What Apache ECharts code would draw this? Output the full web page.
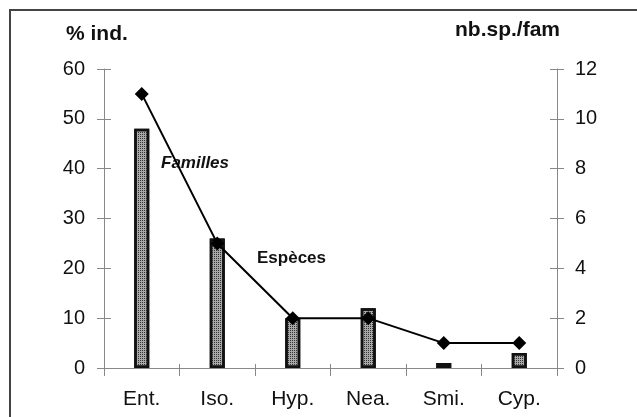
<!DOCTYPE html>
<html><head><meta charset="utf-8">
<script src="https://cdn.jsdelivr.net/npm/echarts@6/dist/echarts.min.js"></script>
<style>html,body{margin:0;padding:0;background:#fff}#c{width:637px;height:417px}</style>
</head><body><div id="c"></div>
<script>
const categories = ['Ent.', 'Iso.', 'Hyp.', 'Nea.', 'Smi.', 'Cyp.'];
const pctInd = [48, 26, 10, 12, 1, 3];
const spPerFam = [11, 5, 2, 2, 1, 1];
const leftTicks = [0, 10, 20, 30, 40, 50, 60];
const rightTicks = [0, 2, 4, 6, 8, 10, 12];

const chart = echarts.init(document.getElementById('c'), null, {renderer: 'canvas'});
const font = 'Liberation Sans, Arial, sans-serif';
const axisLine = {show: true, lineStyle: {color: '#888', width: 1}};
const tickStyle = {color: '#888', width: 1};
chart.setOption({
  animation: false,
  grid: {left: 104, right: 80, top: 69, bottom: 49},
  xAxis: [{
    type: 'category', data: categories,
    axisLine: axisLine,
    axisTick: {show: true, length: 8, lineStyle: tickStyle},
    axisLabel: {fontFamily: font, fontSize: 21, color: '#111', margin: 21}
  }, {
    type: 'category', data: categories, position: 'bottom',
    axisLine: {show: false},
    axisTick: {show: true, inside: true, length: 4, lineStyle: tickStyle},
    axisLabel: {show: false}
  }],
  yAxis: [{
    type: 'value', min: leftTicks[0], max: leftTicks[leftTicks.length - 1], interval: 10,
    position: 'left',
    axisLine: axisLine,
    axisTick: {show: true, length: 7, lineStyle: tickStyle},
    splitLine: {show: false},
    axisLabel: {fontFamily: font, fontSize: 20, color: '#111', margin: 19}
  }, {
    type: 'value', min: rightTicks[0], max: rightTicks[rightTicks.length - 1], interval: 2,
    position: 'right',
    axisLine: axisLine,
    axisTick: {show: true, length: 7, lineStyle: tickStyle},
    splitLine: {show: false},
    axisLabel: {fontFamily: font, fontSize: 20, color: '#111', margin: 18}
  }, {
    type: 'value', min: leftTicks[0], max: leftTicks[leftTicks.length - 1], interval: 10,
    position: 'left',
    axisLine: {show: false},
    axisTick: {show: true, inside: true, length: 7, lineStyle: tickStyle},
    splitLine: {show: false}, axisLabel: {show: false}
  }, {
    type: 'value', min: rightTicks[0], max: rightTicks[rightTicks.length - 1], interval: 2,
    position: 'right',
    axisLine: {show: false},
    axisTick: {show: true, inside: true, length: 7, lineStyle: tickStyle},
    splitLine: {show: false}, axisLabel: {show: false}
  }],
  series: [{
    type: 'bar', data: pctInd, yAxisIndex: 0, barWidth: 15,
    itemStyle: {
      color: '#a8a8a8', borderColor: '#111', borderWidth: 2.5,
      decal: {symbol: 'rect', symbolSize: 1, dashArrayX: [1, 1], dashArrayY: [1, 1], color: '#333', rotation: 0}
    }
  }, {
    type: 'line', data: spPerFam, yAxisIndex: 1,
    symbol: 'diamond', symbolSize: 14,
    lineStyle: {color: '#000', width: 2},
    itemStyle: {color: '#000'}
  }],
  graphic: [
    {type: 'rect', shape: {x: 10, y: 10, width: 700, height: 500}, style: {fill: 'none', stroke: '#444', lineWidth: 2}, silent: true},
    {type: 'text', left: 66, top: 24, style: {text: '% ind.', font: 'bold 21px ' + font, fill: '#111'}},
    {type: 'text', left: 455, top: 20, style: {text: 'nb.sp./fam', font: 'bold 21px ' + font, fill: '#111'}},
    {type: 'text', left: 161, top: 155, style: {text: 'Familles', font: 'italic bold 17px ' + font, fill: '#111'}},
    {type: 'text', left: 257, top: 250, style: {text: 'Espèces', font: 'bold 17px ' + font, fill: '#111'}}
  ]
});
</script></body></html>
